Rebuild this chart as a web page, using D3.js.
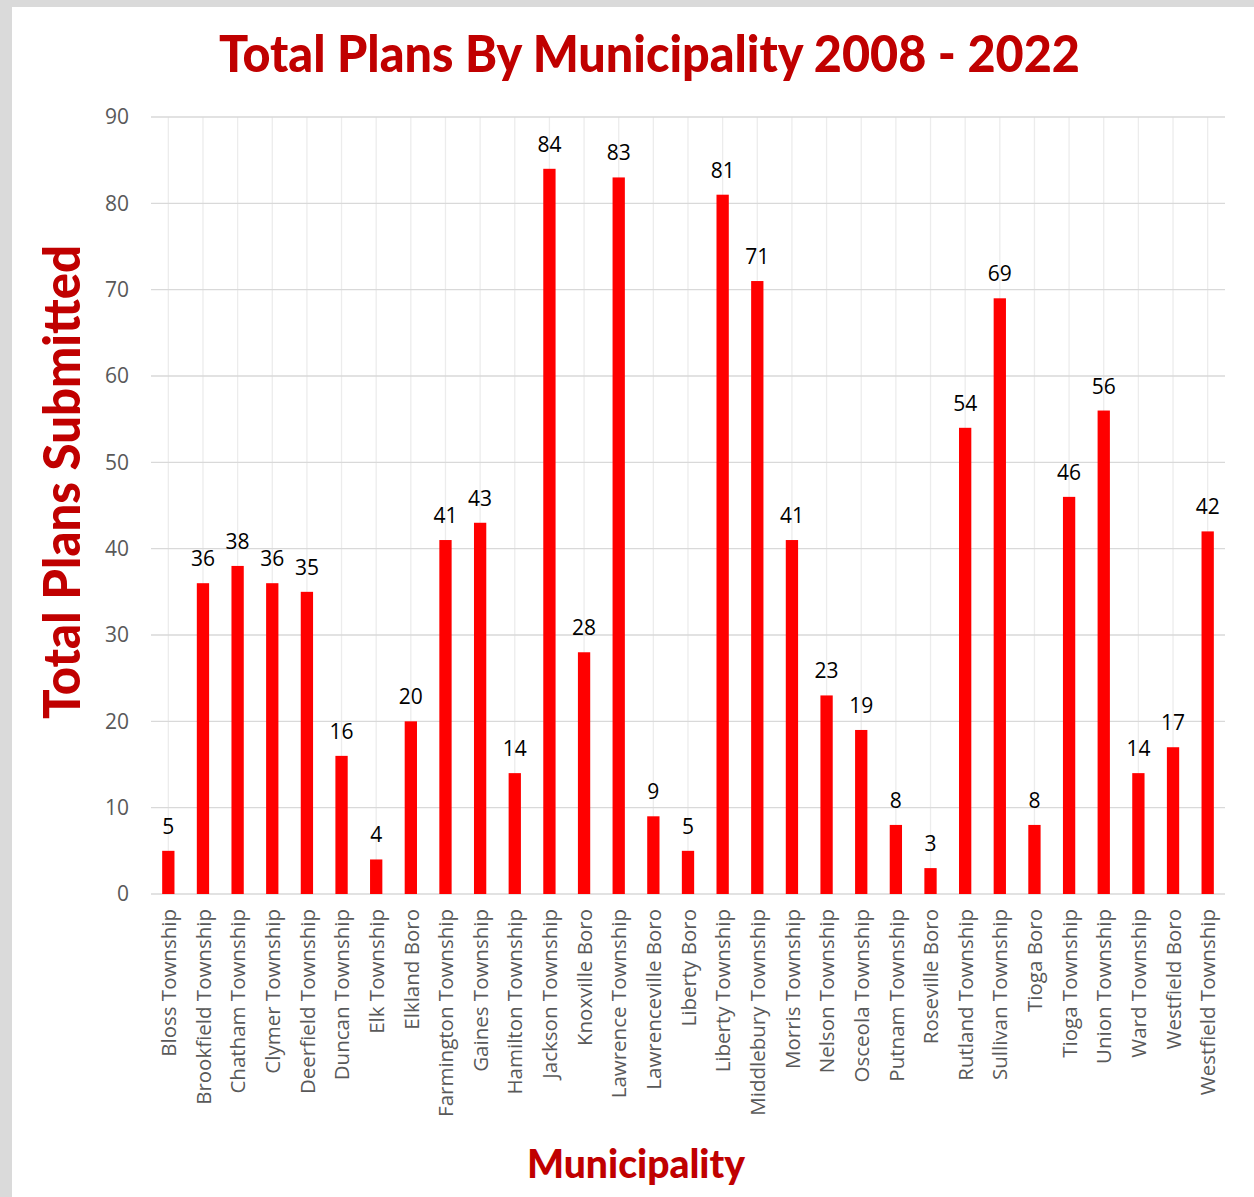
<!DOCTYPE html>
<html>
<head>
<meta charset="utf-8">
<script src="https://cdn.jsdelivr.net/npm/d3@7"></script>
<style>
html,body{margin:0;padding:0;background:#fff;}
svg{display:block;}
</style>
</head>
<body>
<script>
const categories = ["Bloss Township","Brookfield Township","Chatham Township","Clymer Township","Deerfield Township","Duncan Township","Elk Township","Elkland Boro","Farmington Township","Gaines Township","Hamilton Township","Jackson Township","Knoxville Boro","Lawrence Township","Lawrenceville Boro","Liberty Boro","Liberty Township","Middlebury Township","Morris Township","Nelson Township","Osceola Township","Putnam Township","Roseville Boro","Rutland Township","Sullivan Township","Tioga Boro","Tioga Township","Union Township","Ward Township","Westfield Boro","Westfield Township"];
const values = [5,36,38,36,35,16,4,20,41,43,14,84,28,83,9,5,81,71,41,23,19,8,3,54,69,8,46,56,14,17,42];
const yTicks = [0,10,20,30,40,50,60,70,80,90];
const titleText = "Total Plans By Municipality 2008 - 2022";
const yTitle = "Total Plans Submitted";
const xTitle = "Municipality";

const W = 1254, H = 1197;
const svg = d3.select("body").append("svg").attr("width", W).attr("height", H);

// frame
svg.append("rect").attr("x",0).attr("y",0).attr("width",W).attr("height",H).attr("fill","#dadada");
svg.append("rect").attr("x",12).attr("y",7).attr("width",W-12).attr("height",H-7).attr("fill","#ffffff");

const x0 = 151, x1 = 1225, yTop = 117, yBot = 894;
const x = d3.scaleBand().domain(categories).range([x0, x1]).paddingInner(0.645).paddingOuter(0.3225);
const xc = d3.scalePoint().domain(categories).range([x0, x1]).padding(0.5);
const y = d3.scaleLinear().domain([0, 90]).range([yBot, yTop]);

// vertical gridlines at category centers
svg.append("g").selectAll("line").data(categories).join("line")
  .attr("x1", d => xc(d)).attr("x2", d => xc(d))
  .attr("y1", yTop).attr("y2", yBot)
  .attr("stroke", "#ececec").attr("stroke-width", 1.3);

// horizontal gridlines
svg.append("g").selectAll("line").data(yTicks).join("line")
  .attr("x1", x0).attr("x2", x1)
  .attr("y1", d => y(d)).attr("y2", d => y(d))
  .attr("stroke", "#d9d9d9").attr("stroke-width", 1.3);

// y tick labels
const yAxis = d3.axisLeft(y).tickValues(yTicks).tickSize(0).tickPadding(22);
const gy = svg.append("g").attr("transform", `translate(${x0},0)`).call(yAxis);
gy.select(".domain").remove();
gy.selectAll("text").attr("font-family","'Open Sans', sans-serif").attr("font-size","21px").attr("fill","#595959");

// bars
svg.append("g").selectAll("rect").data(values).join("rect")
  .attr("x", (d,i) => x(categories[i]))
  .attr("width", x.bandwidth())
  .attr("y", d => y(d))
  .attr("height", d => y(0) - y(d))
  .attr("fill", "#ff0000");

// data labels
svg.append("g").selectAll("text").data(values).join("text")
  .attr("x", (d,i) => xc(categories[i]))
  .attr("y", d => y(d) - 17)
  .attr("text-anchor","middle")
  .attr("font-family","'Open Sans', sans-serif").attr("font-size","21px").attr("fill","#000")
  .text(d => d);

// x axis category labels
const xAxis = d3.axisBottom(xc).tickSize(0).tickPadding(0);
const gx = svg.append("g").attr("transform", `translate(0,${yBot})`).call(xAxis);
gx.select(".domain").remove();
gx.selectAll("text")
  .attr("font-family","'Open Sans', sans-serif").attr("font-size","20.5px").attr("fill","#595959")
  .attr("transform","rotate(-90)")
  .attr("text-anchor","end")
  .attr("x", -15).attr("y", 0).attr("dy","0.35em");

// titles
svg.append("text").attr("x", 649.5).attr("y", 72).attr("text-anchor","middle")
  .attr("font-family","Lato, sans-serif").attr("font-weight","900").attr("font-size","51px")
  .attr("fill","#c00000").attr("textLength", 861).attr("lengthAdjust","spacingAndGlyphs")
  .text(titleText);

svg.append("text").attr("transform","translate(80,482) rotate(-90)").attr("text-anchor","middle")
  .attr("font-family","Lato, sans-serif").attr("font-weight","900").attr("font-size","51px")
  .attr("fill","#c00000").attr("textLength", 474).attr("lengthAdjust","spacingAndGlyphs")
  .text(yTitle);

svg.append("text").attr("x", 636).attr("y", 1178).attr("text-anchor","middle")
  .attr("font-family","Lato, sans-serif").attr("font-weight","900").attr("font-size","39px")
  .attr("fill","#c00000").attr("textLength", 218).attr("lengthAdjust","spacingAndGlyphs")
  .text(xTitle);
</script>
</body>
</html>
